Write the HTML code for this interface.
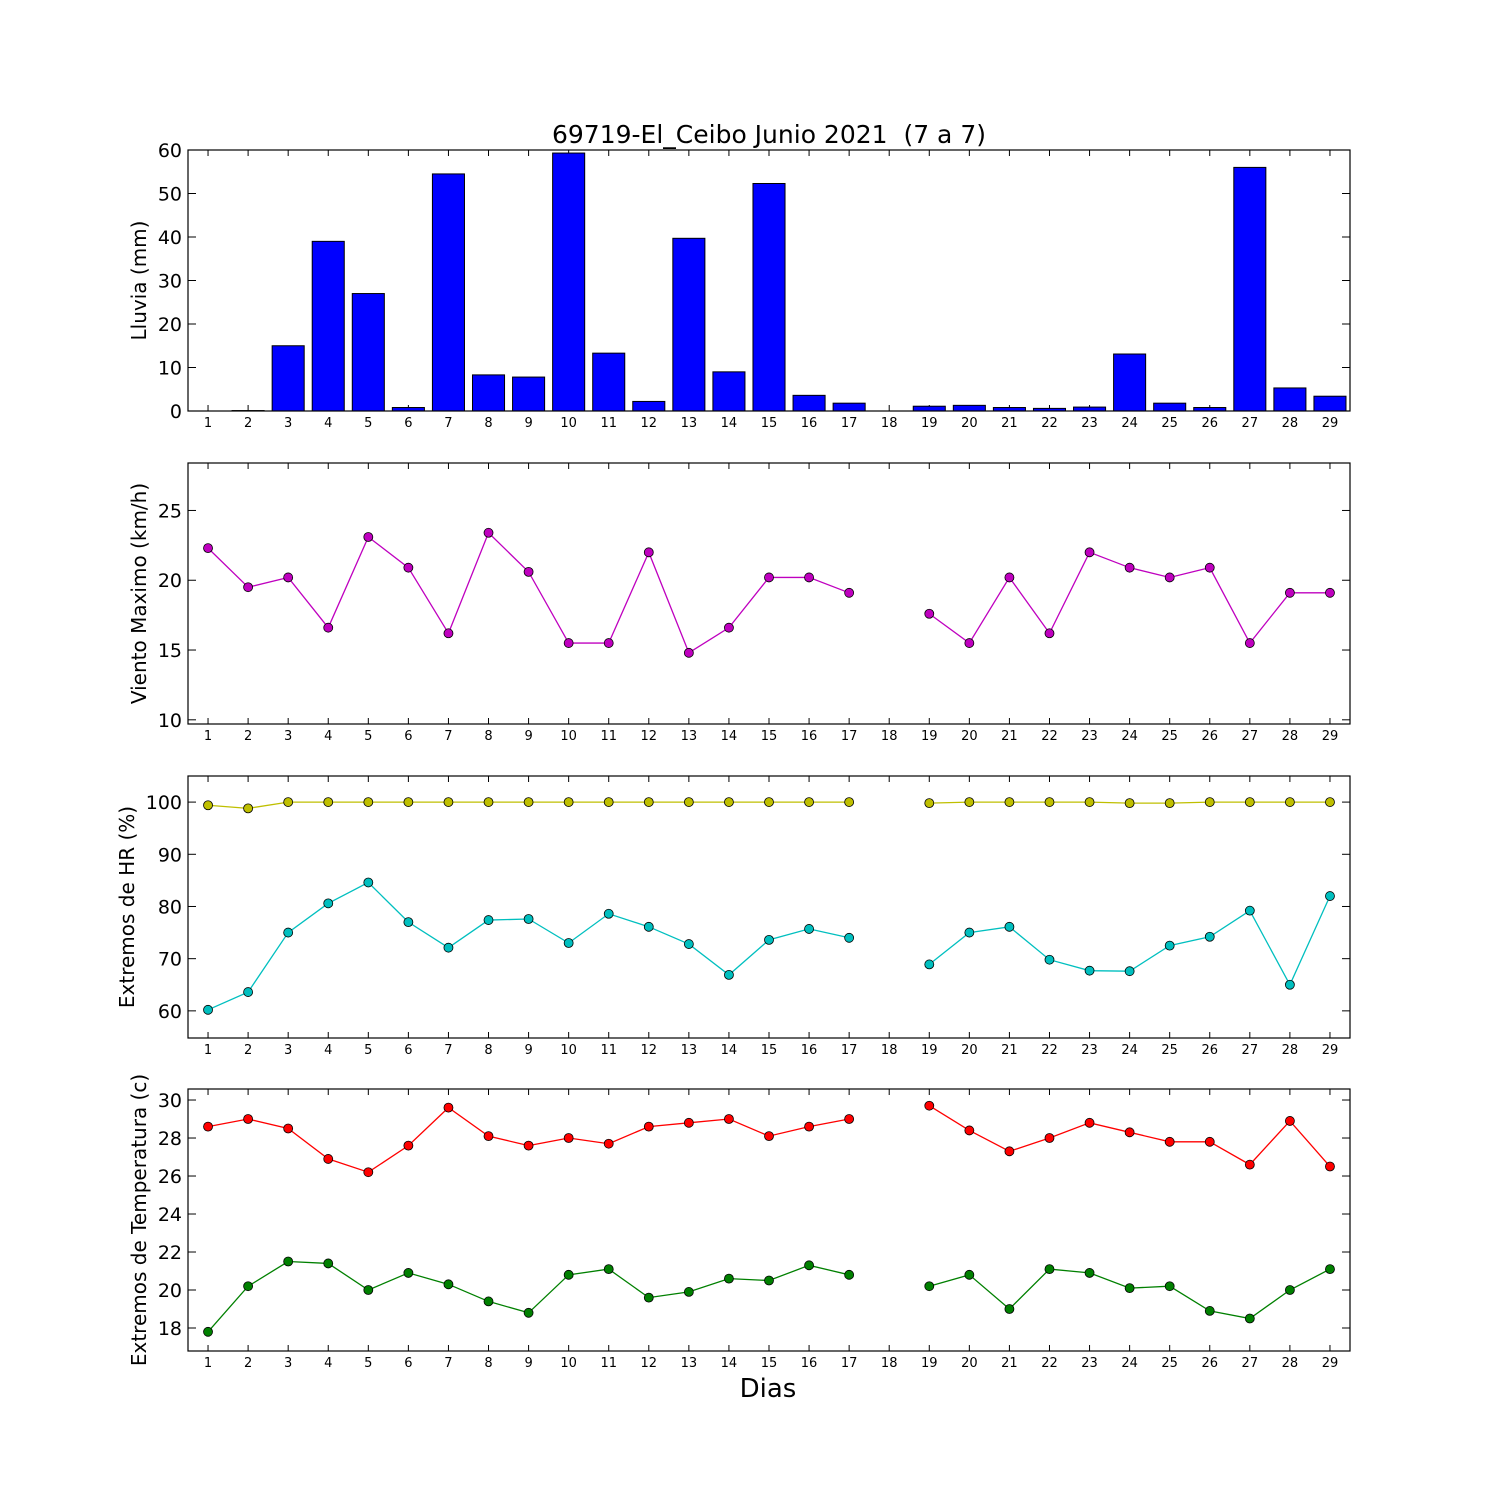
<!DOCTYPE html>
<html><head><meta charset="utf-8"><style>
html,body{margin:0;padding:0;background:#fff}
svg{display:block;font-family:"DejaVu Sans","Liberation Sans",sans-serif}
</style></head><body>
<svg id="c" width="1500" height="1500" viewBox="0 0 1500 1500"></svg>
<script>
const days=[1,2,3,4,5,6,7,8,9,10,11,12,13,14,15,16,17,18,19,20,21,22,23,24,25,26,27,28,29];
const rain=[0,0.1,15,39,27,0.8,54.5,8.3,7.8,59.3,13.3,2.2,39.7,9,52.3,3.6,1.8,0,1.1,1.3,0.8,0.6,0.9,13.1,1.8,0.8,56,5.3,3.4];
const wind=[22.3,19.5,20.2,16.6,23.1,20.9,16.2,23.4,20.6,15.5,15.5,22,14.8,16.6,20.2,20.2,19.1,null,17.6,15.5,20.2,16.2,22,20.9,20.2,20.9,15.5,19.1,19.1];
const hrMax=[99.4,98.8,100,100,100,100,100,100,100,100,100,100,100,100,100,100,100,null,99.8,100,100,100,100,99.8,99.8,100,100,100,100];
const hrMin=[60.2,63.6,75,80.6,84.6,77,72.1,77.4,77.6,73,78.6,76.1,72.8,66.9,73.6,75.7,74,null,68.9,75,76.1,69.8,67.7,67.6,72.5,74.2,79.2,65,82];
const tMax=[28.6,29,28.5,26.9,26.2,27.6,29.6,28.1,27.6,28,27.7,28.6,28.8,29,28.1,28.6,29,null,29.7,28.4,27.3,28,28.8,28.3,27.8,27.8,26.6,28.9,26.5];
const tMin=[17.8,20.2,21.5,21.4,20,20.9,20.3,19.4,18.8,20.8,21.1,19.6,19.9,20.6,20.5,21.3,20.8,null,20.2,20.8,19,21.1,20.9,20.1,20.2,18.9,18.5,20,21.1];
const rainTicks=[0,10,20,30,40,50,60];
const windTicks=[10,15,20,25];
const hrTicks=[60,70,80,90,100];
const tTicks=[18,20,22,24,26,28,30];

const svg=document.getElementById('c');
const NS='http://www.w3.org/2000/svg';
function mk(tag,at,parent){const e=document.createElementNS(NS,tag);for(const k in at)e.setAttribute(k,at[k]);(parent||svg).appendChild(e);return e;}
const L=188,R=1350;
const x=d=>L+(d-0.5)*(R-L)/29;

function panel(name,top,bot,y0,y1,ticks,label,labelX){
  const g=mk('g',{});
  
  
  const y=v=>bot-(v-y0)/(y1-y0)*(bot-top);
  ticks.forEach(t=>{
    const yy=y(t);
    mk('line',{x1:L,x2:L+8,y1:yy,y2:yy,stroke:'#000'},g);
    mk('line',{x1:R,x2:R-8,y1:yy,y2:yy,stroke:'#000'},g);
    const tx=mk('text',{x:L-6,y:yy+7,'text-anchor':'end','font-size':19},g);
    tx.textContent=t;
    
    
  });
  days.forEach(d=>{
    const xx=x(d);
    mk('line',{x1:xx,x2:xx,y1:bot,y2:bot-6,stroke:'#000'},g);
    mk('line',{x1:xx,x2:xx,y1:top,y2:top+6,stroke:'#000'},g);
    const tx=mk('text',{x:xx,y:bot+16,'text-anchor':'middle','font-size':13},g);
    tx.textContent=d;
    
    
  });
  const yl=mk('text',{x:labelX,y:(top+bot)/2,'text-anchor':'middle','font-size':20,transform:`rotate(-90 ${labelX} ${(top+bot)/2})`},g);
  yl.textContent=label;
  
  
  return {g,y,top,bot};
}
function frame(p){mk('rect',{x:L,y:p.top,width:R-L,height:p.bot-p.top,fill:'none',stroke:'#000','stroke-width':1.2},p.g);}
function series(p,vals,color,name){
  let seg=[];const segs=[];
  vals.forEach((v,i)=>{if(v===null){if(seg.length)segs.push(seg);seg=[];}else seg.push([x(days[i]),p.y(v)]);});
  if(seg.length)segs.push(seg);
  segs.forEach(s=>{
    const pl=mk('polyline',{points:s.map(q=>q.join(',')).join(' '),fill:'none',stroke:color,'stroke-width':1.3},p.g);
    
    
  });
  vals.forEach((v,i)=>{if(v===null)return;
    const c=mk('circle',{cx:x(days[i]),cy:p.y(v),r:4.5,fill:color,stroke:'#000','stroke-width':0.8},p.g);
    
    
  });
}

const t=mk('text',{x:769,y:143,'text-anchor':'middle','font-size':25,'xml:space':'preserve',style:'white-space:pre'});
t.textContent='69719-El_Ceibo Junio 2021  (7 a 7)';



const p1=panel('rain-panel',150,411,0,60,rainTicks,'Lluvia (mm)',146);
rain.forEach((v,i)=>{
  const w=0.8*(R-L)/29;
  const b=mk('rect',{x:x(days[i])-w/2,y:p1.y(v),width:w,height:p1.y(0)-p1.y(v),fill:'#0000ff',stroke:'#000','stroke-width':1},p1.g);
  
  
});
frame(p1);

const p2=panel('wind-panel',463,724,9.7,28.4,windTicks,'Viento Maximo (km/h)',146);
series(p2,wind,'#bf00bf','wind');frame(p2);

const p3=panel('humidity-panel',776,1038,54.8,105,hrTicks,'Extremos de HR (%)',134);
series(p3,hrMax,'#bfbf00','hr-max');series(p3,hrMin,'#00bfbf','hr-min');frame(p3);

const p4=panel('temperature-panel',1089,1351,16.79,30.58,tTicks,'Extremos de Temperatura (c)',146);
series(p4,tMax,'#ff0000','temp-max');series(p4,tMin,'#008000','temp-min');frame(p4);

const xl=mk('text',{x:768,y:1397,'text-anchor':'middle','font-size':26});
xl.textContent='Dias';


</script>
</body></html>
